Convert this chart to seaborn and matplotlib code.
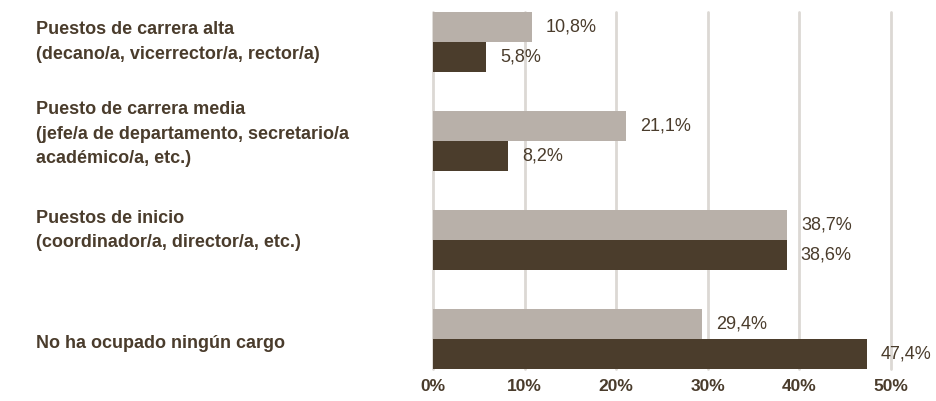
import seaborn as sns
import matplotlib.pyplot as plt
import matplotlib.transforms as mtransforms
import pandas as pd

# datos del gráfico
categorias = [
    "Puestos de carrera alta\n(decano/a, vicerrector/a, rector/a)",
    "Puesto de carrera media\n(jefe/a de departamento, secretario/a\nacadémico/a, etc.)",
    "Puestos de inicio\n(coordinador/a, director/a, etc.)",
    "No ha ocupado ningún cargo",
]
serie_clara = [10.8, 21.1, 38.7, 29.4]
serie_oscura = [5.8, 8.2, 38.6, 47.4]
series = ["Serie 1", "Serie 2"]
ticks = [0, 10, 20, 30, 40, 50]

texto = "#4a3c2c"
colores = ["#b8b0a9", "#4b3d2c"]

sns.set_theme(style="white")
plt.rcParams["font.family"] = ["Liberation Sans Narrow", "Liberation Sans", "DejaVu Sans"]

df = pd.DataFrame({
    "categoria": categorias * 2,
    "valor": serie_clara + serie_oscura,
    "serie": [series[0]] * 4 + [series[1]] * 4,
})

fig = plt.figure(figsize=(9.37, 4.01), dpi=100)
ax = fig.add_axes([433 / 937, 1 - 369 / 401, (891 - 433) / 937, (369 - 12) / 401])

for t in ticks:
    ax.axvline(t, color="#dcd8d4", lw=2, zorder=0, clip_on=False)

sns.barplot(data=df, y="categoria", x="valor", hue="serie", palette=colores,
            width=0.606, saturation=1, legend=False, ax=ax, zorder=2, linewidth=0)

for cont in ax.containers:
    for bar in cont:
        v = bar.get_width()
        ax.annotate(f"{v:.1f}".replace(".", ",") + "%",
                    (v, bar.get_y() + bar.get_height() / 2),
                    xytext=(10, 0), textcoords="offset points",
                    va="center", ha="left", fontsize=13, color=texto)

ax.set_xlim(0, 50)
ax.set_ylim(3.303, -0.303)
ax.set_xticks(ticks)
ax.set_xticklabels([f"{t}%" for t in ticks], fontweight="bold", fontsize=12.5, color=texto)
ax.tick_params(axis="x", length=0, pad=7)
ax.set_yticks([])
ax.set_xlabel("")
ax.set_ylabel("")
sns.despine(ax=ax, left=True, bottom=True)

# etiquetas de categoría a la izquierda
trans = mtransforms.blended_transform_factory(fig.transFigure, ax.transData)
offsets = [0.0, -0.07, -0.1, 0.05]
for i, cat in enumerate(categorias):
    ax.text(36 / 937, i + offsets[i], cat, transform=trans,
            ha="left", va="center", fontsize=13, fontweight="bold", color=texto, linespacing=1.55)

fig.savefig("out.png", dpi=100)
